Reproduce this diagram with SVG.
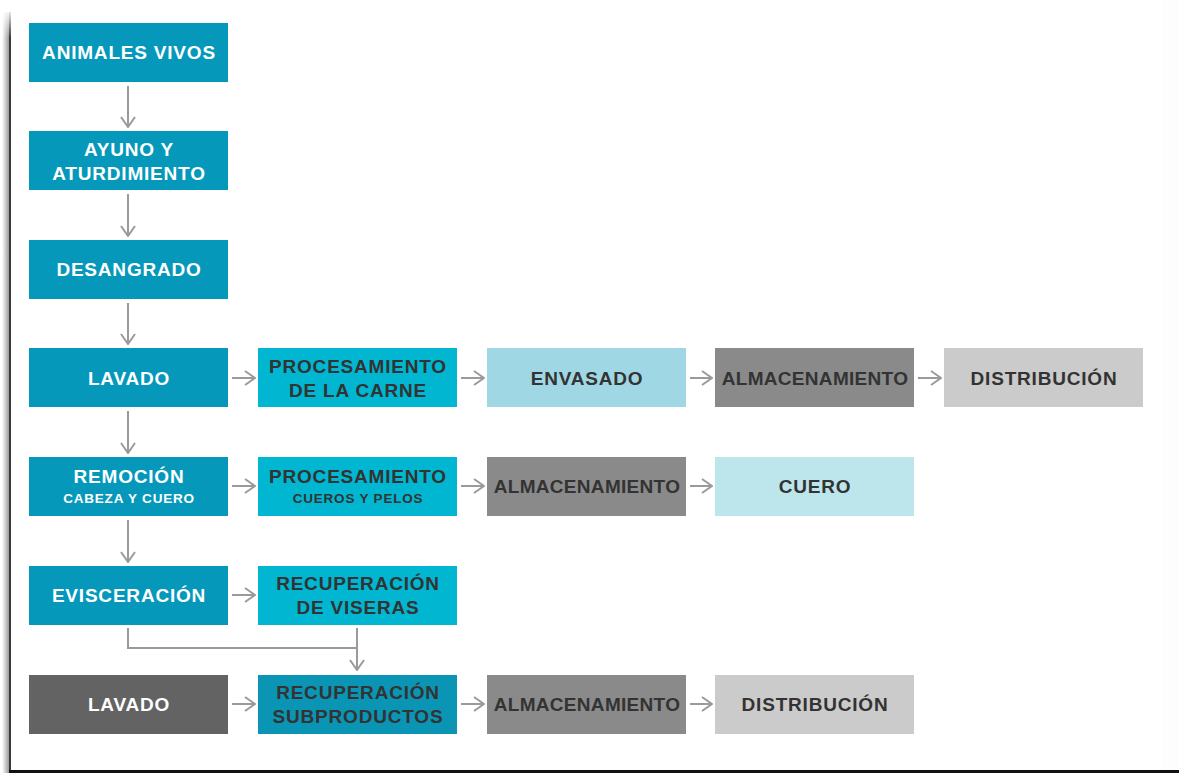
<svg xmlns="http://www.w3.org/2000/svg" width="1179" height="773" viewBox="0 0 1179 773">
  <defs>
    <marker id="chev" viewBox="0 0 12 16" refX="11" refY="8" markerWidth="12" markerHeight="16" markerUnits="userSpaceOnUse" orient="auto">
      <path d="M1,1 L11,8 L1,15" fill="none" stroke="#9a9a9a" stroke-width="2"/>
    </marker>
    <linearGradient id="edgeShade" x1="0" y1="0" x2="1" y2="0">
      <stop offset="0" stop-color="#ffffff"/>
      <stop offset="1" stop-color="#8c8c8c"/>
    </linearGradient>
    <linearGradient id="edgeFade" x1="0" y1="0" x2="0" y2="1">
      <stop offset="0" stop-color="#ffffff" stop-opacity="1"/>
      <stop offset="1" stop-color="#ffffff" stop-opacity="0"/>
    </linearGradient>
  </defs>
  <style>
    .box { stroke: none; }
    .teal { fill: #0598bb; }
    .cyan { fill: #00b6d1; }
    .pale { fill: #9fd8e4; }
    .paler { fill: #bde5ec; }
    .mid { fill: #8a8a8a; }
    .light { fill: #cbcbcb; }
    .dark { fill: #636363; }
    .sub { fill: #0b95b4; }
    text { font-family: "Liberation Sans", Arial, sans-serif; font-weight: bold; text-anchor: middle; }
    .w { fill: #ffffff; }
    .k { fill: #333333; }
    .big { font-size: 19px; letter-spacing: 0.8px; }
    .small { font-size: 13.5px; letter-spacing: 0.8px; }
    .tight { letter-spacing: 0.3px; }
    .conn { fill: none; stroke: #9a9a9a; stroke-width: 2; }
  </style>

  <!-- page background and photo frame edges -->
  <rect x="0" y="0" width="1179" height="773" fill="#ffffff"/>
  <rect x="2" y="12" width="8" height="761" fill="url(#edgeShade)"/>
  <rect x="9" y="12" width="2" height="761" fill="#3a3a3a"/>
  <rect x="0" y="8" width="14" height="30" fill="url(#edgeFade)"/>
  <rect x="1162" y="0" width="17" height="773" fill="#fdfdfd"/>
  <rect x="9" y="770" width="1170" height="3" fill="#111111"/>

  <!-- connectors -->
  <g id="connectors">
    <line class="conn" x1="128" y1="86" x2="128" y2="127" marker-end="url(#chev)"/>
    <line class="conn" x1="128" y1="194" x2="128" y2="236" marker-end="url(#chev)"/>
    <line class="conn" x1="128" y1="303" x2="128" y2="344" marker-end="url(#chev)"/>
    <line class="conn" x1="128" y1="411" x2="128" y2="453" marker-end="url(#chev)"/>
    <line class="conn" x1="128" y1="520" x2="128" y2="562" marker-end="url(#chev)"/>

    <line class="conn" x1="232" y1="378" x2="255" y2="378" marker-end="url(#chev)"/>
    <line class="conn" x1="461" y1="378" x2="484" y2="378" marker-end="url(#chev)"/>
    <line class="conn" x1="690" y1="378" x2="712" y2="378" marker-end="url(#chev)"/>
    <line class="conn" x1="918" y1="378" x2="941" y2="378" marker-end="url(#chev)"/>

    <line class="conn" x1="232" y1="486" x2="255" y2="486" marker-end="url(#chev)"/>
    <line class="conn" x1="461" y1="486" x2="484" y2="486" marker-end="url(#chev)"/>
    <line class="conn" x1="690" y1="486" x2="712" y2="486" marker-end="url(#chev)"/>

    <line class="conn" x1="232" y1="595" x2="255" y2="595" marker-end="url(#chev)"/>

    <polyline class="conn" points="128,628 128,648 357,648"/>
    <line class="conn" x1="357" y1="628" x2="357" y2="670" marker-end="url(#chev)"/>

    <line class="conn" x1="232" y1="704" x2="255" y2="704" marker-end="url(#chev)"/>
    <line class="conn" x1="461" y1="704" x2="484" y2="704" marker-end="url(#chev)"/>
    <line class="conn" x1="690" y1="704" x2="712" y2="704" marker-end="url(#chev)"/>
  </g>

  <!-- main column -->
  <g id="animales-vivos">
    <rect class="box teal" x="29" y="23" width="199" height="59"/>
    <text class="w big" x="129" y="59">ANIMALES VIVOS</text>
  </g>
  <g id="ayuno">
    <rect class="box teal" x="29" y="131" width="199" height="59"/>
    <text class="w big" x="129" y="156">AYUNO Y</text>
    <text class="w big" x="129" y="180">ATURDIMIENTO</text>
  </g>
  <g id="desangrado">
    <rect class="box teal" x="29" y="240" width="199" height="59"/>
    <text class="w big" x="129" y="276">DESANGRADO</text>
  </g>
  <g id="lavado-1">
    <rect class="box teal" x="29" y="348" width="199" height="59"/>
    <text class="w big" x="129" y="385">LAVADO</text>
  </g>
  <g id="remocion">
    <rect class="box teal" x="29" y="457" width="199" height="59"/>
    <text class="w big" x="129" y="483">REMOCIÓN</text>
    <text class="w small" x="129" y="503">CABEZA Y CUERO</text>
  </g>
  <g id="evisceracion">
    <rect class="box teal" x="29" y="566" width="199" height="59"/>
    <text class="w big" x="129" y="602">EVISCERACIÓN</text>
  </g>
  <g id="lavado-2">
    <rect class="box dark" x="29" y="675" width="199" height="59"/>
    <text class="w big" x="129" y="711">LAVADO</text>
  </g>

  <!-- meat line -->
  <g id="procesamiento-carne">
    <rect class="box cyan" x="258" y="348" width="199" height="59"/>
    <text class="k big" x="358" y="373">PROCESAMIENTO</text>
    <text class="k big" x="358" y="397">DE LA CARNE</text>
  </g>
  <g id="envasado">
    <rect class="box pale" x="487" y="348" width="199" height="59"/>
    <text class="k big" x="587" y="385">ENVASADO</text>
  </g>
  <g id="almacenamiento-1">
    <rect class="box mid" x="715" y="348" width="199" height="59"/>
    <text class="k big tight" x="815" y="385">ALMACENAMIENTO</text>
  </g>
  <g id="distribucion-1">
    <rect class="box light" x="944" y="348" width="199" height="59"/>
    <text class="k big" x="1044" y="385">DISTRIBUCIÓN</text>
  </g>

  <!-- hide line -->
  <g id="procesamiento-cueros">
    <rect class="box cyan" x="258" y="457" width="199" height="59"/>
    <text class="k big" x="358" y="483">PROCESAMIENTO</text>
    <text class="k small" x="358" y="503">CUEROS Y PELOS</text>
  </g>
  <g id="almacenamiento-2">
    <rect class="box mid" x="487" y="457" width="199" height="59"/>
    <text class="k big tight" x="587" y="493">ALMACENAMIENTO</text>
  </g>
  <g id="cuero">
    <rect class="box paler" x="715" y="457" width="199" height="59"/>
    <text class="k big" x="815" y="493">CUERO</text>
  </g>

  <!-- viscera line -->
  <g id="recuperacion-viseras">
    <rect class="box cyan" x="258" y="566" width="199" height="59"/>
    <text class="k big" x="358" y="590">RECUPERACIÓN</text>
    <text class="k big" x="358" y="614">DE VISERAS</text>
  </g>

  <!-- by-products line -->
  <g id="recuperacion-subproductos">
    <rect class="box sub" x="258" y="675" width="199" height="59"/>
    <text class="k big" x="358" y="699">RECUPERACIÓN</text>
    <text class="k big" x="358" y="723">SUBPRODUCTOS</text>
  </g>
  <g id="almacenamiento-3">
    <rect class="box mid" x="487" y="675" width="199" height="59"/>
    <text class="k big tight" x="587" y="711">ALMACENAMIENTO</text>
  </g>
  <g id="distribucion-2">
    <rect class="box light" x="715" y="675" width="199" height="59"/>
    <text class="k big" x="815" y="711">DISTRIBUCIÓN</text>
  </g>
</svg>
